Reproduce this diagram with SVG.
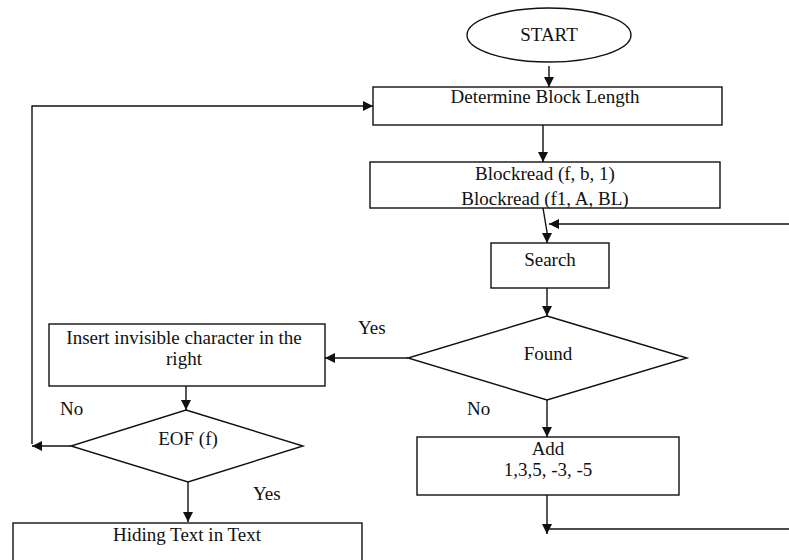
<svg xmlns="http://www.w3.org/2000/svg" width="789" height="560" viewBox="0 0 789 560">
<defs>
<style>
.s{fill:#fff;stroke:#111;stroke-width:1.4}
.c{fill:none;stroke:#111;stroke-width:1.4}
text{font-family:"Liberation Serif","Times New Roman",serif;font-size:19px;fill:#111}
.m{text-anchor:middle}
</style>
<marker id="a" viewBox="0 0 10 10" refX="10" refY="5" markerWidth="10" markerHeight="10" markerUnits="userSpaceOnUse" orient="auto">
<path d="M0,0 L10,5 L0,10 z" fill="#111"/>
</marker>
</defs>
<rect width="789" height="560" fill="#fff"/>
<g id="connectors">
<line class="c" x1="549" y1="66" x2="549" y2="87" marker-end="url(#a)"/>
<line class="c" x1="543" y1="125" x2="543" y2="162" marker-end="url(#a)"/>
<polyline class="c" points="543,208 547,232 547,243" marker-end="url(#a)"/>
<line class="c" x1="789" y1="224" x2="549" y2="224" marker-end="url(#a)"/>
<line class="c" x1="547" y1="288" x2="547" y2="316" marker-end="url(#a)"/>
<line class="c" x1="408" y1="358" x2="325" y2="358" marker-end="url(#a)"/>
<line class="c" x1="186" y1="386" x2="186" y2="410" marker-end="url(#a)"/>
<line class="c" x1="71" y1="446" x2="32" y2="446" marker-end="url(#a)"/>
<polyline class="c" points="32,444 32,106 373,106" marker-end="url(#a)"/>
<line class="c" x1="188" y1="482" x2="188" y2="522" marker-end="url(#a)"/>
<line class="c" x1="547" y1="400" x2="547" y2="437" marker-end="url(#a)"/>
<line class="c" x1="547" y1="495" x2="547" y2="534" marker-end="url(#a)"/>
<line class="c" x1="789" y1="529" x2="547" y2="529"/>
<text x="358" y="334">Yes</text>
<text x="60" y="415">No</text>
<text x="253" y="500">Yes</text>
<text x="467" y="415">No</text>
</g>
<g id="start">
<ellipse class="s" cx="549" cy="35" rx="82" ry="27"/>
<text class="m" x="549" y="41">START</text>
</g>
<g id="determine">
<rect class="s" x="373" y="87" width="349" height="38"/>
<text class="m" x="545" y="103">Determine Block Length</text>
</g>
<g id="blockread">
<rect class="s" x="370" y="162" width="350" height="46"/>
<text class="m" x="545" y="180">Blockread (f, b, 1)</text>
<text class="m" x="545" y="205">Blockread (f1, A, BL)</text>
</g>
<g id="search">
<rect class="s" x="491" y="243" width="118" height="45"/>
<text class="m" x="550" y="266">Search</text>
</g>
<g id="found">
<polygon class="s" points="547,316 687,358 547,400 408,358"/>
<text class="m" x="548" y="360">Found</text>
</g>
<g id="insert">
<rect class="s" x="49" y="324" width="276" height="62"/>
<text class="m" x="184" y="344">Insert invisible  character in the</text>
<text class="m" x="184" y="365">right</text>
</g>
<g id="eof">
<polygon class="s" points="186,410 303,446 188,482 71,446"/>
<text class="m" x="188" y="445">EOF  (f)</text>
</g>
<g id="add">
<rect class="s" x="417" y="437" width="262" height="58"/>
<text class="m" x="548" y="455">Add</text>
<text class="m" x="548" y="476">1,3,5, -3, -5</text>
</g>
<g id="hiding">
<rect class="s" x="13" y="523" width="349" height="45"/>
<text class="m" x="187" y="541">Hiding Text in Text</text>
</g>
</svg>
